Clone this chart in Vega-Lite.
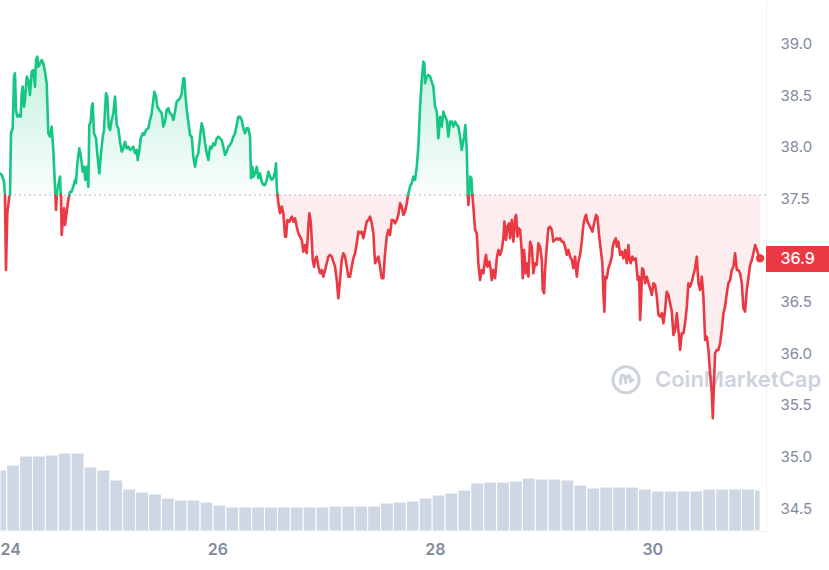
{
"$schema": "https://vega.github.io/schema/vega-lite/v6.json",
"width": 766, "height": 531,
"autosize": {"type": "none"},
"padding": {"left": 0, "top": 0, "right": 63, "bottom": 39},
"background": "white",
"config": {
 "font": "Inter",
 "view": {"stroke": null},
 "axis": {"ticks": false, "labelFont": "Inter"},
 "axisX": {"grid": false, "domain": true, "domainColor": "#eef0f3", "labelFontSize": 16, "labelFontWeight": 600, "labelColor": "#808a9d", "labelPadding": 10},
 "axisY": {"grid": true, "gridColor": "#eef0f3", "domain": true, "domainColor": "#eef0f3", "labelFontSize": 15, "labelColor": "#808a9d", "labelPadding": 14}
},
"datasets": {
"volume": [
{"start":0,"end":1.48,"volume":61},{"start":1.48,"end":4.33,"volume":66},{"start":4.33,"end":7.17,"volume":75},{"start":7.17,"end":10.02,"volume":75},{"start":10.02,"end":12.86,"volume":76},{"start":12.86,"end":15.71,"volume":78},{"start":15.71,"end":18.56,"volume":78},{"start":18.56,"end":21.40,"volume":64},{"start":21.40,"end":24.25,"volume":61},{"start":24.25,"end":27.09,"volume":51},
{"start":27.09,"end":29.94,"volume":42},{"start":29.94,"end":32.79,"volume":39},{"start":32.79,"end":35.63,"volume":37},{"start":35.63,"end":38.48,"volume":33},{"start":38.48,"end":41.32,"volume":31},{"start":41.32,"end":44.17,"volume":31},{"start":44.17,"end":47.02,"volume":29},{"start":47.02,"end":49.86,"volume":26},{"start":49.86,"end":52.71,"volume":24},{"start":52.71,"end":55.55,"volume":24},
{"start":55.55,"end":58.40,"volume":24},{"start":58.40,"end":61.25,"volume":24},{"start":61.25,"end":64.09,"volume":24},{"start":64.09,"end":66.94,"volume":24},{"start":66.94,"end":69.78,"volume":24},{"start":69.78,"end":72.63,"volume":24},{"start":72.63,"end":75.48,"volume":25},{"start":75.48,"end":78.32,"volume":25},{"start":78.32,"end":81.17,"volume":25},{"start":81.17,"end":84.01,"volume":25},
{"start":84.01,"end":86.86,"volume":28},{"start":86.86,"end":89.71,"volume":29},{"start":89.71,"end":92.55,"volume":30},{"start":92.55,"end":95.40,"volume":33},{"start":95.40,"end":98.24,"volume":36},{"start":98.24,"end":101.09,"volume":38},{"start":101.09,"end":103.94,"volume":41},{"start":103.94,"end":106.78,"volume":48},{"start":106.78,"end":109.63,"volume":49},{"start":109.63,"end":112.47,"volume":49},
{"start":112.47,"end":115.32,"volume":50},{"start":115.32,"end":118.17,"volume":53},{"start":118.17,"end":121.01,"volume":52},{"start":121.01,"end":123.86,"volume":52},{"start":123.86,"end":126.70,"volume":51},{"start":126.70,"end":129.55,"volume":46},{"start":129.55,"end":132.40,"volume":43},{"start":132.40,"end":135.24,"volume":44},{"start":135.24,"end":138.09,"volume":44},{"start":138.09,"end":140.93,"volume":44},
{"start":140.93,"end":143.78,"volume":42},{"start":143.78,"end":146.63,"volume":40},{"start":146.63,"end":149.47,"volume":40},{"start":149.47,"end":152.32,"volume":40},{"start":152.32,"end":155.16,"volume":40},{"start":155.16,"end":158.01,"volume":42},{"start":158.01,"end":160.86,"volume":42},{"start":160.86,"end":163.70,"volume":42},{"start":163.70,"end":166.55,"volume":42},{"start":166.55,"end":167.80,"volume":41}
],
"price": [
{"h":0,"price":37.743,"side":"up","seg":1},{"h":0.38,"price":37.727,"side":"up","seg":1},{"h":0.88,"price":37.662,"side":"up","seg":1},{"h":1.10,"price":37.533,"side":"up","seg":1},
{"h":1.10,"price":37.533,"side":"down","seg":2},{"h":1.32,"price":36.807,"side":"down","seg":2},{"h":1.61,"price":37.356,"side":"down","seg":2},{"h":2.05,"price":37.517,"side":"down","seg":2},{"h":2.21,"price":37.533,"side":"down","seg":2},
{"h":2.21,"price":37.533,"side":"up","seg":3},{"h":2.43,"price":38.131,"side":"up","seg":3},{"h":2.80,"price":38.179,"side":"up","seg":3},{"h":3.09,"price":38.679,"side":"up","seg":3},{"h":3.31,"price":38.712,"side":"up","seg":3},{"h":3.53,"price":38.356,"side":"up","seg":3},{"h":3.82,"price":38.291,"side":"up","seg":3},{"h":4.26,"price":38.308,"side":"up","seg":3},{"h":4.57,"price":38.291,"side":"up","seg":3},{"h":4.79,"price":38.518,"side":"up","seg":3},{"h":5.01,"price":38.582,"side":"up","seg":3},{"h":5.30,"price":38.388,"side":"up","seg":3},{"h":5.52,"price":38.453,"side":"up","seg":3},{"h":5.90,"price":38.679,"side":"up","seg":3},{"h":6.25,"price":38.647,"side":"up","seg":3},{"h":6.62,"price":38.501,"side":"up","seg":3},{"h":7.00,"price":38.727,"side":"up","seg":3},{"h":7.35,"price":38.743,"side":"up","seg":3},{"h":7.73,"price":38.582,"side":"up","seg":3},{"h":7.95,"price":38.840,"side":"up","seg":3},{"h":8.24,"price":38.872,"side":"up","seg":3},{"h":8.46,"price":38.775,"side":"up","seg":3},{"h":8.83,"price":38.808,"side":"up","seg":3},{"h":9.21,"price":38.840,"side":"up","seg":3},{"h":9.56,"price":38.808,"side":"up","seg":3},{"h":9.94,"price":38.727,"side":"up","seg":3},{"h":10.31,"price":38.615,"side":"up","seg":3},{"h":10.66,"price":38.131,"side":"up","seg":3},{"h":11.04,"price":38.098,"side":"up","seg":3},{"h":11.41,"price":38.195,"side":"up","seg":3},{"h":11.77,"price":37.969,"side":"up","seg":3},{"h":12.14,"price":37.614,"side":"up","seg":3},{"h":12.23,"price":37.533,"side":"up","seg":3},
{"h":12.23,"price":37.533,"side":"down","seg":4},{"h":12.36,"price":37.388,"side":"down","seg":4},{"h":12.56,"price":37.533,"side":"down","seg":4},
{"h":12.56,"price":37.533,"side":"up","seg":5},{"h":12.65,"price":37.582,"side":"up","seg":5},{"h":12.96,"price":37.647,"side":"up","seg":5},{"h":13.25,"price":37.711,"side":"up","seg":5},{"h":13.42,"price":37.533,"side":"up","seg":5},
{"h":13.42,"price":37.533,"side":"down","seg":6},{"h":13.47,"price":37.517,"side":"down","seg":6},{"h":13.62,"price":37.146,"side":"down","seg":6},{"h":13.84,"price":37.275,"side":"down","seg":6},{"h":14.13,"price":37.405,"side":"down","seg":6},{"h":14.35,"price":37.243,"side":"down","seg":6},{"h":14.73,"price":37.372,"side":"down","seg":6},{"h":15.08,"price":37.485,"side":"down","seg":6},{"h":15.30,"price":37.533,"side":"down","seg":6},
{"h":15.30,"price":37.533,"side":"up","seg":7},{"h":15.46,"price":37.565,"side":"up","seg":7},{"h":15.83,"price":37.565,"side":"up","seg":7},{"h":16.18,"price":37.614,"side":"up","seg":7},{"h":16.56,"price":37.679,"side":"up","seg":7},{"h":16.78,"price":37.647,"side":"up","seg":7},{"h":17.07,"price":37.840,"side":"up","seg":7},{"h":17.51,"price":37.985,"side":"up","seg":7},{"h":17.82,"price":37.921,"side":"up","seg":7},{"h":18.26,"price":37.759,"side":"up","seg":7},{"h":18.55,"price":37.807,"side":"up","seg":7},{"h":18.83,"price":37.679,"side":"up","seg":7},{"h":19.14,"price":37.807,"side":"up","seg":7},{"h":19.50,"price":37.614,"side":"up","seg":7},{"h":19.72,"price":38.211,"side":"up","seg":7},{"h":20.03,"price":38.243,"side":"up","seg":7},{"h":20.25,"price":38.388,"side":"up","seg":7},{"h":20.47,"price":38.421,"side":"up","seg":7},{"h":20.75,"price":38.131,"side":"up","seg":7},{"h":21.20,"price":38.082,"side":"up","seg":7},{"h":21.48,"price":37.937,"side":"up","seg":7},{"h":21.92,"price":37.743,"side":"up","seg":7},{"h":22.23,"price":37.904,"side":"up","seg":7},{"h":22.68,"price":38.098,"side":"up","seg":7},{"h":22.96,"price":38.163,"side":"up","seg":7},{"h":23.40,"price":38.518,"side":"up","seg":7},{"h":23.69,"price":38.485,"side":"up","seg":7},{"h":24.00,"price":38.195,"side":"up","seg":7},{"h":24.29,"price":38.163,"side":"up","seg":7},{"h":24.66,"price":38.259,"side":"up","seg":7},{"h":25.02,"price":38.324,"side":"up","seg":7},{"h":25.39,"price":38.485,"side":"up","seg":7},{"h":25.77,"price":38.211,"side":"up","seg":7},{"h":26.12,"price":38.179,"side":"up","seg":7},{"h":26.49,"price":38.049,"side":"up","seg":7},{"h":26.87,"price":37.953,"side":"up","seg":7},{"h":27.22,"price":37.985,"side":"up","seg":7},{"h":27.60,"price":38.049,"side":"up","seg":7},{"h":27.97,"price":37.985,"side":"up","seg":7},{"h":28.33,"price":38.001,"side":"up","seg":7},{"h":28.70,"price":37.969,"side":"up","seg":7},{"h":29.08,"price":37.985,"side":"up","seg":7},{"h":29.43,"price":38.001,"side":"up","seg":7},{"h":29.81,"price":37.937,"side":"up","seg":7},{"h":30.18,"price":37.969,"side":"up","seg":7},{"h":30.40,"price":37.872,"side":"up","seg":7},{"h":30.76,"price":37.969,"side":"up","seg":7},{"h":31.07,"price":38.082,"side":"up","seg":7},{"h":31.51,"price":38.131,"side":"up","seg":7},{"h":31.79,"price":38.114,"side":"up","seg":7},{"h":32.24,"price":38.163,"side":"up","seg":7},{"h":32.74,"price":38.179,"side":"up","seg":7},{"h":33.12,"price":38.259,"side":"up","seg":7},{"h":33.49,"price":38.324,"side":"up","seg":7},{"h":33.85,"price":38.453,"side":"up","seg":7},{"h":34.07,"price":38.533,"side":"up","seg":7},{"h":34.44,"price":38.485,"side":"up","seg":7},{"h":34.73,"price":38.388,"side":"up","seg":7},{"h":35.17,"price":38.356,"side":"up","seg":7},{"h":35.70,"price":38.324,"side":"up","seg":7},{"h":36.05,"price":38.195,"side":"up","seg":7},{"h":36.43,"price":38.243,"side":"up","seg":7},{"h":36.80,"price":38.356,"side":"up","seg":7},{"h":37.16,"price":38.373,"side":"up","seg":7},{"h":37.53,"price":38.324,"side":"up","seg":7},{"h":37.91,"price":38.308,"side":"up","seg":7},{"h":38.26,"price":38.259,"side":"up","seg":7},{"h":38.64,"price":38.340,"side":"up","seg":7},{"h":39.01,"price":38.437,"side":"up","seg":7},{"h":39.37,"price":38.453,"side":"up","seg":7},{"h":39.74,"price":38.469,"side":"up","seg":7},{"h":40.12,"price":38.518,"side":"up","seg":7},{"h":40.47,"price":38.663,"side":"up","seg":7},{"h":40.69,"price":38.663,"side":"up","seg":7},{"h":40.91,"price":38.518,"side":"up","seg":7},{"h":41.22,"price":38.356,"side":"up","seg":7},{"h":41.58,"price":38.243,"side":"up","seg":7},{"h":41.95,"price":38.114,"side":"up","seg":7},{"h":42.33,"price":38.098,"side":"up","seg":7},{"h":42.68,"price":37.904,"side":"up","seg":7},{"h":43.05,"price":37.807,"side":"up","seg":7},{"h":43.43,"price":37.904,"side":"up","seg":7},{"h":43.78,"price":37.937,"side":"up","seg":7},{"h":44.16,"price":38.098,"side":"up","seg":7},{"h":44.53,"price":38.227,"side":"up","seg":7},{"h":44.89,"price":38.163,"side":"up","seg":7},{"h":45.26,"price":38.034,"side":"up","seg":7},{"h":45.64,"price":37.937,"side":"up","seg":7},{"h":45.99,"price":37.872,"side":"up","seg":7},{"h":46.37,"price":38.001,"side":"up","seg":7},{"h":46.74,"price":37.985,"side":"up","seg":7},{"h":47.09,"price":38.034,"side":"up","seg":7},{"h":47.47,"price":38.017,"side":"up","seg":7},{"h":47.85,"price":38.082,"side":"up","seg":7},{"h":48.20,"price":38.098,"side":"up","seg":7},{"h":48.57,"price":38.082,"side":"up","seg":7},{"h":48.95,"price":38.066,"side":"up","seg":7},{"h":49.30,"price":38.001,"side":"up","seg":7},{"h":49.68,"price":37.921,"side":"up","seg":7},{"h":50.05,"price":37.953,"side":"up","seg":7},{"h":50.41,"price":38.001,"side":"up","seg":7},{"h":50.78,"price":38.017,"side":"up","seg":7},{"h":51.16,"price":38.049,"side":"up","seg":7},{"h":51.51,"price":38.098,"side":"up","seg":7},{"h":51.89,"price":38.131,"side":"up","seg":7},{"h":52.26,"price":38.211,"side":"up","seg":7},{"h":52.61,"price":38.291,"side":"up","seg":7},{"h":52.99,"price":38.291,"side":"up","seg":7},{"h":53.37,"price":38.259,"side":"up","seg":7},{"h":53.72,"price":38.179,"side":"up","seg":7},{"h":54.09,"price":38.131,"side":"up","seg":7},{"h":54.47,"price":38.179,"side":"up","seg":7},{"h":54.82,"price":38.179,"side":"up","seg":7},{"h":55.20,"price":38.098,"side":"up","seg":7},{"h":55.42,"price":37.695,"side":"up","seg":7},{"h":55.71,"price":37.807,"side":"up","seg":7},{"h":55.93,"price":37.711,"side":"up","seg":7},{"h":56.30,"price":37.743,"side":"up","seg":7},{"h":56.68,"price":37.807,"side":"up","seg":7},{"h":57.03,"price":37.695,"side":"up","seg":7},{"h":57.41,"price":37.743,"side":"up","seg":7},{"h":57.78,"price":37.662,"side":"up","seg":7},{"h":58.14,"price":37.630,"side":"up","seg":7},{"h":58.51,"price":37.630,"side":"up","seg":7},{"h":58.89,"price":37.679,"side":"up","seg":7},{"h":59.24,"price":37.759,"side":"up","seg":7},{"h":59.61,"price":37.711,"side":"up","seg":7},{"h":59.99,"price":37.679,"side":"up","seg":7},{"h":60.34,"price":37.695,"side":"up","seg":7},{"h":60.72,"price":37.759,"side":"up","seg":7},{"h":60.94,"price":37.840,"side":"up","seg":7},{"h":61.09,"price":37.614,"side":"up","seg":7},{"h":61.27,"price":37.533,"side":"up","seg":7},
{"h":61.27,"price":37.533,"side":"down","seg":8},{"h":61.45,"price":37.453,"side":"down","seg":8},{"h":61.82,"price":37.356,"side":"down","seg":8},{"h":62.20,"price":37.420,"side":"down","seg":8},{"h":62.55,"price":37.356,"side":"down","seg":8},{"h":62.93,"price":37.130,"side":"down","seg":8},{"h":63.15,"price":37.130,"side":"down","seg":8},{"h":63.43,"price":37.291,"side":"down","seg":8},{"h":63.88,"price":37.275,"side":"down","seg":8},{"h":64.40,"price":37.323,"side":"down","seg":8},{"h":64.76,"price":37.275,"side":"down","seg":8},{"h":65.13,"price":37.308,"side":"down","seg":8},{"h":65.51,"price":37.226,"side":"down","seg":8},{"h":65.86,"price":37.163,"side":"down","seg":8},{"h":66.24,"price":37.130,"side":"down","seg":8},{"h":66.61,"price":37.098,"side":"down","seg":8},{"h":66.97,"price":36.984,"side":"down","seg":8},{"h":67.34,"price":37.049,"side":"down","seg":8},{"h":67.72,"price":36.969,"side":"down","seg":8},{"h":68.07,"price":37.226,"side":"down","seg":8},{"h":68.29,"price":37.356,"side":"down","seg":8},{"h":68.60,"price":37.275,"side":"down","seg":8},{"h":68.82,"price":37.098,"side":"down","seg":8},{"h":69.04,"price":36.904,"side":"down","seg":8},{"h":69.33,"price":36.839,"side":"down","seg":8},{"h":69.55,"price":36.904,"side":"down","seg":8},{"h":69.92,"price":36.936,"side":"down","seg":8},{"h":70.28,"price":36.839,"side":"down","seg":8},{"h":70.65,"price":36.775,"side":"down","seg":8},{"h":71.03,"price":36.807,"side":"down","seg":8},{"h":71.38,"price":36.742,"side":"down","seg":8},{"h":71.76,"price":36.807,"side":"down","seg":8},{"h":72.13,"price":36.872,"side":"down","seg":8},{"h":72.49,"price":36.936,"side":"down","seg":8},{"h":72.86,"price":36.953,"side":"down","seg":8},{"h":73.24,"price":36.936,"side":"down","seg":8},{"h":73.59,"price":36.888,"side":"down","seg":8},{"h":73.96,"price":36.839,"side":"down","seg":8},{"h":74.34,"price":36.710,"side":"down","seg":8},{"h":74.69,"price":36.533,"side":"down","seg":8},{"h":75.07,"price":36.710,"side":"down","seg":8},{"h":75.44,"price":36.904,"side":"down","seg":8},{"h":75.80,"price":36.969,"side":"down","seg":8},{"h":76.17,"price":36.936,"side":"down","seg":8},{"h":76.55,"price":36.839,"side":"down","seg":8},{"h":76.90,"price":36.742,"side":"down","seg":8},{"h":77.28,"price":36.742,"side":"down","seg":8},{"h":77.65,"price":36.839,"side":"down","seg":8},{"h":78.01,"price":36.920,"side":"down","seg":8},{"h":78.38,"price":36.969,"side":"down","seg":8},{"h":78.76,"price":37.066,"side":"down","seg":8},{"h":79.11,"price":37.178,"side":"down","seg":8},{"h":79.48,"price":37.163,"side":"down","seg":8},{"h":79.86,"price":37.178,"side":"down","seg":8},{"h":80.21,"price":37.114,"side":"down","seg":8},{"h":80.59,"price":37.195,"side":"down","seg":8},{"h":80.96,"price":37.275,"side":"down","seg":8},{"h":81.32,"price":37.291,"side":"down","seg":8},{"h":81.69,"price":37.323,"side":"down","seg":8},{"h":82.07,"price":37.259,"side":"down","seg":8},{"h":82.42,"price":37.163,"side":"down","seg":8},{"h":82.80,"price":36.872,"side":"down","seg":8},{"h":83.17,"price":36.904,"side":"down","seg":8},{"h":83.53,"price":36.936,"side":"down","seg":8},{"h":83.90,"price":36.839,"side":"down","seg":8},{"h":84.28,"price":36.727,"side":"down","seg":8},{"h":84.63,"price":36.727,"side":"down","seg":8},{"h":85.00,"price":36.969,"side":"down","seg":8},{"h":85.38,"price":37.130,"side":"down","seg":8},{"h":85.73,"price":37.195,"side":"down","seg":8},{"h":86.11,"price":37.146,"side":"down","seg":8},{"h":86.48,"price":37.291,"side":"down","seg":8},{"h":86.84,"price":37.291,"side":"down","seg":8},{"h":87.21,"price":37.259,"side":"down","seg":8},{"h":87.59,"price":37.291,"side":"down","seg":8},{"h":87.94,"price":37.340,"side":"down","seg":8},{"h":88.32,"price":37.453,"side":"down","seg":8},{"h":88.69,"price":37.420,"side":"down","seg":8},{"h":89.05,"price":37.340,"side":"down","seg":8},{"h":89.42,"price":37.372,"side":"down","seg":8},{"h":89.80,"price":37.453,"side":"down","seg":8},{"h":90.08,"price":37.533,"side":"down","seg":8},
{"h":90.08,"price":37.533,"side":"up","seg":9},{"h":90.52,"price":37.614,"side":"up","seg":9},{"h":90.90,"price":37.647,"side":"up","seg":9},{"h":91.25,"price":37.711,"side":"up","seg":9},{"h":91.63,"price":37.679,"side":"up","seg":9},{"h":92.00,"price":37.807,"side":"up","seg":9},{"h":92.36,"price":38.001,"side":"up","seg":9},{"h":92.73,"price":38.388,"side":"up","seg":9},{"h":93.11,"price":38.647,"side":"up","seg":9},{"h":93.46,"price":38.824,"side":"up","seg":9},{"h":93.68,"price":38.808,"side":"up","seg":9},{"h":93.84,"price":38.615,"side":"up","seg":9},{"h":94.21,"price":38.679,"side":"up","seg":9},{"h":94.57,"price":38.695,"side":"up","seg":9},{"h":94.94,"price":38.679,"side":"up","seg":9},{"h":95.31,"price":38.630,"side":"up","seg":9},{"h":95.67,"price":38.582,"side":"up","seg":9},{"h":96.04,"price":38.388,"side":"up","seg":9},{"h":96.42,"price":38.340,"side":"up","seg":9},{"h":96.77,"price":38.082,"side":"up","seg":9},{"h":97.15,"price":38.291,"side":"up","seg":9},{"h":97.52,"price":38.195,"side":"up","seg":9},{"h":97.88,"price":38.340,"side":"up","seg":9},{"h":98.25,"price":38.291,"side":"up","seg":9},{"h":98.63,"price":38.259,"side":"up","seg":9},{"h":98.98,"price":38.098,"side":"up","seg":9},{"h":99.36,"price":38.243,"side":"up","seg":9},{"h":99.73,"price":38.243,"side":"up","seg":9},{"h":100.08,"price":38.195,"side":"up","seg":9},{"h":100.46,"price":38.243,"side":"up","seg":9},{"h":100.84,"price":38.211,"side":"up","seg":9},{"h":101.19,"price":38.195,"side":"up","seg":9},{"h":101.56,"price":38.098,"side":"up","seg":9},{"h":101.94,"price":37.969,"side":"up","seg":9},{"h":102.16,"price":38.034,"side":"up","seg":9},{"h":102.45,"price":38.098,"side":"up","seg":9},{"h":102.73,"price":38.211,"side":"up","seg":9},{"h":103.04,"price":37.969,"side":"up","seg":9},{"h":103.17,"price":37.711,"side":"up","seg":9},{"h":103.28,"price":37.533,"side":"up","seg":9},
{"h":103.28,"price":37.533,"side":"down","seg":10},{"h":103.40,"price":37.437,"side":"down","seg":10},{"h":103.55,"price":37.533,"side":"down","seg":10},
{"h":103.55,"price":37.533,"side":"up","seg":11},{"h":103.77,"price":37.711,"side":"up","seg":11},{"h":104.06,"price":37.695,"side":"up","seg":11},{"h":104.28,"price":37.533,"side":"up","seg":11},
{"h":104.28,"price":37.533,"side":"down","seg":12},{"h":104.50,"price":37.420,"side":"down","seg":12},{"h":104.88,"price":37.195,"side":"down","seg":12},{"h":105.25,"price":37.163,"side":"down","seg":12},{"h":105.60,"price":36.872,"side":"down","seg":12},{"h":105.98,"price":36.710,"side":"down","seg":12},{"h":106.35,"price":36.807,"side":"down","seg":12},{"h":106.71,"price":36.775,"side":"down","seg":12},{"h":107.08,"price":36.904,"side":"down","seg":12},{"h":107.30,"price":36.953,"side":"down","seg":12},{"h":107.59,"price":36.839,"side":"down","seg":12},{"h":108.03,"price":36.888,"side":"down","seg":12},{"h":108.34,"price":36.807,"side":"down","seg":12},{"h":108.56,"price":36.710,"side":"down","seg":12},{"h":108.92,"price":36.807,"side":"down","seg":12},{"h":109.29,"price":36.727,"side":"down","seg":12},{"h":109.67,"price":36.920,"side":"down","seg":12},{"h":110.02,"price":37.001,"side":"down","seg":12},{"h":110.40,"price":36.953,"side":"down","seg":12},{"h":110.77,"price":37.001,"side":"down","seg":12},{"h":111.13,"price":37.114,"side":"down","seg":12},{"h":111.35,"price":37.275,"side":"down","seg":12},{"h":111.72,"price":37.098,"side":"down","seg":12},{"h":112.01,"price":37.226,"side":"down","seg":12},{"h":112.38,"price":37.259,"side":"down","seg":12},{"h":112.60,"price":37.114,"side":"down","seg":12},{"h":112.98,"price":37.291,"side":"down","seg":12},{"h":113.33,"price":37.081,"side":"down","seg":12},{"h":113.71,"price":37.308,"side":"down","seg":12},{"h":113.93,"price":37.340,"side":"down","seg":12},{"h":114.22,"price":37.130,"side":"down","seg":12},{"h":114.44,"price":37.211,"side":"down","seg":12},{"h":114.81,"price":37.195,"side":"down","seg":12},{"h":115.19,"price":36.984,"side":"down","seg":12},{"h":115.41,"price":36.727,"side":"down","seg":12},{"h":115.69,"price":37.001,"side":"down","seg":12},{"h":116.07,"price":36.775,"side":"down","seg":12},{"h":116.29,"price":36.872,"side":"down","seg":12},{"h":116.64,"price":36.742,"side":"down","seg":12},{"h":117.02,"price":37.081,"side":"down","seg":12},{"h":117.39,"price":37.033,"side":"down","seg":12},{"h":117.75,"price":36.775,"side":"down","seg":12},{"h":118.12,"price":36.872,"side":"down","seg":12},{"h":118.50,"price":36.856,"side":"down","seg":12},{"h":118.85,"price":37.066,"side":"down","seg":12},{"h":119.23,"price":37.033,"side":"down","seg":12},{"h":119.60,"price":36.904,"side":"down","seg":12},{"h":119.82,"price":36.614,"side":"down","seg":12},{"h":120.11,"price":36.582,"side":"down","seg":12},{"h":120.33,"price":36.807,"side":"down","seg":12},{"h":120.70,"price":37.033,"side":"down","seg":12},{"h":121.06,"price":37.211,"side":"down","seg":12},{"h":121.43,"price":37.226,"side":"down","seg":12},{"h":121.81,"price":37.195,"side":"down","seg":12},{"h":122.16,"price":37.081,"side":"down","seg":12},{"h":122.54,"price":37.098,"side":"down","seg":12},{"h":122.91,"price":37.114,"side":"down","seg":12},{"h":123.27,"price":37.098,"side":"down","seg":12},{"h":123.64,"price":37.114,"side":"down","seg":12},{"h":124.02,"price":37.081,"side":"down","seg":12},{"h":124.37,"price":37.081,"side":"down","seg":12},{"h":124.75,"price":37.033,"side":"down","seg":12},{"h":125.12,"price":36.953,"side":"down","seg":12},{"h":125.48,"price":37.001,"side":"down","seg":12},{"h":125.85,"price":36.936,"side":"down","seg":12},{"h":126.23,"price":36.904,"side":"down","seg":12},{"h":126.58,"price":36.824,"side":"down","seg":12},{"h":126.95,"price":36.936,"side":"down","seg":12},{"h":127.33,"price":36.742,"side":"down","seg":12},{"h":127.68,"price":36.888,"side":"down","seg":12},{"h":128.06,"price":36.953,"side":"down","seg":12},{"h":128.43,"price":37.081,"side":"down","seg":12},{"h":128.79,"price":37.243,"side":"down","seg":12},{"h":129.16,"price":37.323,"side":"down","seg":12},{"h":129.38,"price":37.340,"side":"down","seg":12},{"h":129.67,"price":37.275,"side":"down","seg":12},{"h":130.05,"price":37.243,"side":"down","seg":12},{"h":130.42,"price":37.211,"side":"down","seg":12},{"h":130.77,"price":37.178,"side":"down","seg":12},{"h":131.15,"price":37.259,"side":"down","seg":12},{"h":131.59,"price":37.340,"side":"down","seg":12},{"h":131.88,"price":37.323,"side":"down","seg":12},{"h":132.25,"price":37.146,"side":"down","seg":12},{"h":132.63,"price":37.001,"side":"down","seg":12},{"h":132.98,"price":36.872,"side":"down","seg":12},{"h":133.20,"price":36.582,"side":"down","seg":12},{"h":133.42,"price":36.404,"side":"down","seg":12},{"h":133.64,"price":36.742,"side":"down","seg":12},{"h":133.95,"price":36.727,"side":"down","seg":12},{"h":134.31,"price":36.824,"side":"down","seg":12},{"h":134.68,"price":36.872,"side":"down","seg":12},{"h":135.06,"price":36.936,"side":"down","seg":12},{"h":135.28,"price":37.033,"side":"down","seg":12},{"h":135.57,"price":37.081,"side":"down","seg":12},{"h":135.94,"price":37.114,"side":"down","seg":12},{"h":136.16,"price":37.033,"side":"down","seg":12},{"h":136.52,"price":37.081,"side":"down","seg":12},{"h":136.89,"price":36.953,"side":"down","seg":12},{"h":137.27,"price":36.984,"side":"down","seg":12},{"h":137.62,"price":36.920,"side":"down","seg":12},{"h":137.99,"price":37.001,"side":"down","seg":12},{"h":138.37,"price":36.872,"side":"down","seg":12},{"h":138.72,"price":37.049,"side":"down","seg":12},{"h":138.94,"price":36.920,"side":"down","seg":12},{"h":139.25,"price":36.872,"side":"down","seg":12},{"h":139.61,"price":36.936,"side":"down","seg":12},{"h":139.98,"price":36.904,"side":"down","seg":12},{"h":140.36,"price":36.920,"side":"down","seg":12},{"h":140.58,"price":36.807,"side":"down","seg":12},{"h":140.80,"price":36.710,"side":"down","seg":12},{"h":141.09,"price":36.742,"side":"down","seg":12},{"h":141.31,"price":36.323,"side":"down","seg":12},{"h":141.53,"price":36.517,"side":"down","seg":12},{"h":141.75,"price":36.824,"side":"down","seg":12},{"h":142.04,"price":36.807,"side":"down","seg":12},{"h":142.41,"price":36.679,"side":"down","seg":12},{"h":142.79,"price":36.742,"side":"down","seg":12},{"h":143.14,"price":36.679,"side":"down","seg":12},{"h":143.51,"price":36.630,"side":"down","seg":12},{"h":143.89,"price":36.565,"side":"down","seg":12},{"h":144.24,"price":36.679,"side":"down","seg":12},{"h":144.62,"price":36.662,"side":"down","seg":12},{"h":144.99,"price":36.549,"side":"down","seg":12},{"h":145.35,"price":36.372,"side":"down","seg":12},{"h":145.72,"price":36.355,"side":"down","seg":12},{"h":146.10,"price":36.388,"side":"down","seg":12},{"h":146.45,"price":36.291,"side":"down","seg":12},{"h":146.83,"price":36.420,"side":"down","seg":12},{"h":147.20,"price":36.597,"side":"down","seg":12},{"h":147.56,"price":36.565,"side":"down","seg":12},{"h":147.93,"price":36.485,"side":"down","seg":12},{"h":148.31,"price":36.404,"side":"down","seg":12},{"h":148.66,"price":36.178,"side":"down","seg":12},{"h":149.03,"price":36.226,"side":"down","seg":12},{"h":149.41,"price":36.388,"side":"down","seg":12},{"h":149.76,"price":36.226,"side":"down","seg":12},{"h":150.14,"price":36.033,"side":"down","seg":12},{"h":150.51,"price":36.195,"side":"down","seg":12},{"h":150.87,"price":36.195,"side":"down","seg":12},{"h":151.24,"price":36.291,"side":"down","seg":12},{"h":151.62,"price":36.452,"side":"down","seg":12},{"h":151.97,"price":36.679,"side":"down","seg":12},{"h":152.35,"price":36.646,"side":"down","seg":12},{"h":152.72,"price":36.694,"side":"down","seg":12},{"h":153.08,"price":36.759,"side":"down","seg":12},{"h":153.45,"price":36.824,"side":"down","seg":12},{"h":153.83,"price":36.936,"side":"down","seg":12},{"h":154.18,"price":36.679,"side":"down","seg":12},{"h":154.55,"price":36.614,"side":"down","seg":12},{"h":154.93,"price":36.742,"side":"down","seg":12},{"h":155.28,"price":36.549,"side":"down","seg":12},{"h":155.66,"price":36.130,"side":"down","seg":12},{"h":156.03,"price":36.162,"side":"down","seg":12},{"h":156.39,"price":36.033,"side":"down","seg":12},{"h":156.76,"price":35.807,"side":"down","seg":12},{"h":157.14,"price":35.614,"side":"down","seg":12},{"h":157.36,"price":35.371,"side":"down","seg":12},{"h":157.64,"price":35.742,"side":"down","seg":12},{"h":157.86,"price":36.001,"side":"down","seg":12},{"h":158.24,"price":36.033,"side":"down","seg":12},{"h":158.59,"price":36.033,"side":"down","seg":12},{"h":158.97,"price":36.098,"side":"down","seg":12},{"h":159.34,"price":36.226,"side":"down","seg":12},{"h":159.70,"price":36.388,"side":"down","seg":12},{"h":160.07,"price":36.452,"side":"down","seg":12},{"h":160.45,"price":36.582,"side":"down","seg":12},{"h":160.80,"price":36.679,"side":"down","seg":12},{"h":161.18,"price":36.710,"side":"down","seg":12},{"h":161.55,"price":36.807,"side":"down","seg":12},{"h":161.91,"price":36.839,"side":"down","seg":12},{"h":162.28,"price":36.969,"side":"down","seg":12},{"h":162.66,"price":36.807,"side":"down","seg":12},{"h":163.01,"price":36.807,"side":"down","seg":12},{"h":163.38,"price":36.775,"side":"down","seg":12},{"h":163.76,"price":36.679,"side":"down","seg":12},{"h":164.11,"price":36.437,"side":"down","seg":12},{"h":164.49,"price":36.404,"side":"down","seg":12},{"h":164.86,"price":36.614,"side":"down","seg":12},{"h":165.22,"price":36.727,"side":"down","seg":12},{"h":165.59,"price":36.856,"side":"down","seg":12},{"h":165.97,"price":36.904,"side":"down","seg":12},{"h":166.32,"price":36.969,"side":"down","seg":12},{"h":166.70,"price":37.049,"side":"down","seg":12},{"h":167.07,"price":37.001,"side":"down","seg":12},{"h":167.42,"price":36.953,"side":"down","seg":12},{"h":167.80,"price":36.920,"side":"down","seg":12}
]
},
"layer": [
 {
  "data": {"name": "volume"},
  "mark": {"type": "bar", "color": "#cfd6e4", "stroke": "white", "strokeWidth": 1},
  "encoding": {
   "x": {"field": "start", "type": "quantitative", "scale": {"domain": [0, 169.1], "nice": false, "zero": false},
         "axis": {"values": [0, 48, 96, 144], "labelExpr": "'' + (24 + datum.value / 24)", "title": null}},
   "x2": {"field": "end"},
   "y": {"field": "volume", "type": "quantitative", "scale": {"domain": [0, 531], "nice": false}, "axis": null},
   "y2": {"datum": 0}
  }
 },
 {
  "data": {"name": "price"},
  "transform": [{"filter": "datum.side == 'up'"}],
  "mark": {"type": "area", "opacity": 1, "fill": {"gradient": "linear", "x1": 0, "y1": 0, "x2": 0, "y2": 1,
    "stops": [{"offset": 0, "color": "rgba(22,199,132,0.26)"}, {"offset": 1, "color": "rgba(22,199,132,0.02)"}]}},
  "encoding": {
   "x": {"field": "h", "type": "quantitative", "axis": {"values": [0, 48, 96, 144], "labelExpr": "'' + (24 + datum.value / 24)", "title": null}},
   "y": {"field": "price", "type": "quantitative", "scale": {"domain": [34.28, 39.421], "nice": false, "zero": false},
         "axis": {"orient": "right", "values": [34.5, 35, 35.5, 36, 36.5, 37, 37.5, 38, 38.5, 39], "labelExpr": "datum.value == 37 ? '' : format(datum.value, '.1f')", "title": null}},
   "y2": {"datum": 37.533}
  }
 },
 {
  "data": {"name": "price"},
  "transform": [{"filter": "datum.side == 'down'"}],
  "mark": {"type": "area", "opacity": 1, "fill": "#ea3943", "fillOpacity": 0.09},
  "encoding": {
   "x": {"field": "h", "type": "quantitative", "axis": {"values": [0, 48, 96, 144], "labelExpr": "'' + (24 + datum.value / 24)", "title": null}},
   "y": {"field": "price", "type": "quantitative", "scale": {"domain": [34.28, 39.421], "nice": false, "zero": false}, "axis": null},
   "y2": {"datum": 37.533}
  }
 },
 {
  "data": {"values": [{"open": 37.533}]},
  "mark": {"type": "rule", "color": "#b4bbc8", "strokeWidth": 1, "strokeDash": [2, 3]},
  "encoding": {
   "y": {"field": "open", "type": "quantitative", "scale": {"domain": [34.28, 39.421], "nice": false, "zero": false}, "axis": null}
  }
 },
 {
  "data": {"values": [{"brand": "CoinMarketCap"}]},
  "mark": {"type": "point", "shape": "circle", "filled": false, "stroke": "#cdd3dd", "strokeWidth": 3, "size": 680, "opacity": 1},
  "encoding": {
   "x": {"datum": 138.2, "type": "quantitative"},
   "y": {"datum": 35.745, "type": "quantitative", "scale": {"domain": [34.28, 39.421], "nice": false, "zero": false}, "axis": null}
  }
 },
 {
  "data": {"values": [{"brand": "CoinMarketCap logo"}]},
  "mark": {"type": "point", "shape": "M -0.62 0.45 L -0.62 0.05 C -0.62 -0.75 -0.12 -0.75 -0.08 0.05 L -0.05 0.35 C 0.02 -0.7 0.5 -0.7 0.5 0.05 L 0.5 0.25 L 0.78 0.05", "filled": false, "stroke": "#cdd3dd", "strokeWidth": 3, "size": 300, "opacity": 1, "strokeCap": "round", "strokeJoin": "round"},
  "encoding": {
   "x": {"datum": 138.2, "type": "quantitative"},
   "y": {"datum": 35.745, "type": "quantitative", "scale": {"domain": [34.28, 39.421], "nice": false, "zero": false}, "axis": null}
  }
 },
 {
  "data": {"values": [{"brand": "CoinMarketCap"}]},
  "mark": {"type": "text", "align": "left", "baseline": "middle", "fontSize": 22, "fontWeight": 600, "color": "#cdd3dd"},
  "encoding": {
   "text": {"field": "brand"},
   "x": {"datum": 144.6, "type": "quantitative"},
   "y": {"datum": 35.74, "type": "quantitative", "scale": {"domain": [34.28, 39.421], "nice": false, "zero": false}, "axis": null}
  }
 },
 {
  "data": {"name": "price"},
  "mark": {"type": "line", "strokeWidth": 2.6, "strokeJoin": "round", "strokeCap": "round"},
  "encoding": {
   "x": {"field": "h", "type": "quantitative", "axis": {"values": [0, 48, 96, 144], "labelExpr": "'' + (24 + datum.value / 24)", "title": null}},
   "y": {"field": "price", "type": "quantitative", "scale": {"domain": [34.28, 39.421], "nice": false, "zero": false}, "axis": null},
   "color": {"field": "side", "type": "nominal", "scale": {"domain": ["up", "down"], "range": ["#16c784", "#ea3943"]}, "legend": null},
   "detail": {"field": "seg", "type": "nominal"}
  }
 },
 {
  "data": {"values": [{"h": 167.8, "price": 36.92}]},
  "mark": {"type": "point", "shape": "circle", "filled": true, "color": "#ea3943", "size": 70, "opacity": 1},
  "encoding": {
   "x": {"field": "h", "type": "quantitative", "axis": {"values": [0, 48, 96, 144], "labelExpr": "'' + (24 + datum.value / 24)", "title": null}},
   "y": {"field": "price", "type": "quantitative", "scale": {"domain": [34.28, 39.421], "nice": false, "zero": false}, "axis": null}
  }
 },
 {
  "data": {"values": [{"label": "36.9"}]},
  "mark": {"type": "rect", "color": "#ea3943"},
  "encoding": {
   "x": {"datum": 169.1, "type": "quantitative"},
   "x2": {"datum": 183.1},
   "y": {"datum": 37.04, "type": "quantitative", "scale": {"domain": [34.28, 39.421], "nice": false, "zero": false}, "axis": null},
   "y2": {"datum": 36.788}
  }
 },
 {
  "data": {"values": [{"label": "36.9"}]},
  "mark": {"type": "text", "align": "center", "baseline": "middle", "fontSize": 16, "fontWeight": 500, "color": "white"},
  "encoding": {
   "text": {"field": "label"},
   "x": {"datum": 176.1, "type": "quantitative"},
   "y": {"datum": 36.914, "type": "quantitative", "scale": {"domain": [34.28, 39.421], "nice": false, "zero": false}, "axis": null}
  }
 }
],
"resolve": {"scale": {"y": "independent"}}
}
